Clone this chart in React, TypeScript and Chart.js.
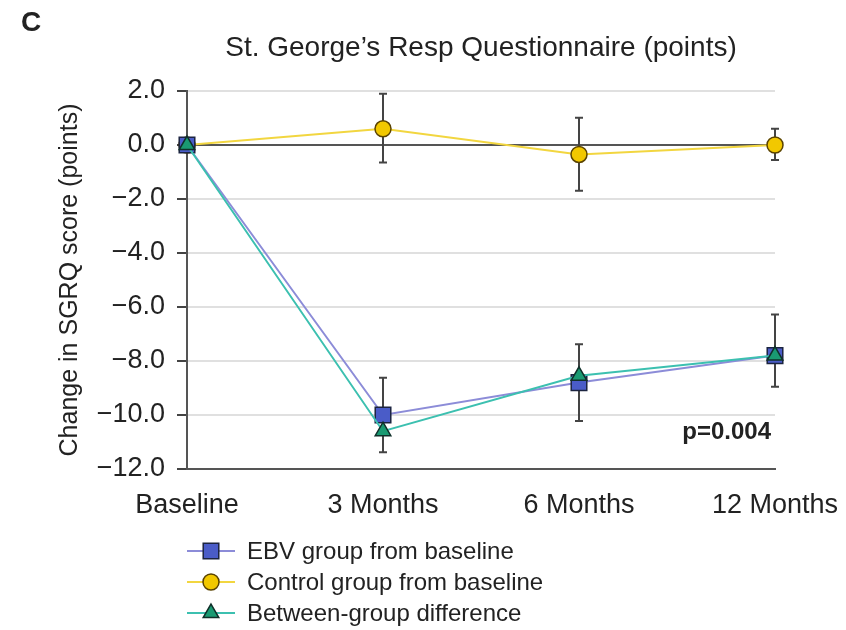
import { useEffect, useRef } from 'react';
import { Chart, registerables } from 'chart.js';

Chart.register(...registerables);

// ---- data ----
const timepoints = ['Baseline', '3 Months', '6 Months', '12 Months'];

const ebvChange = [0, -10.0, -8.8, -7.8];
const ebvErrPlus = [null, 1.38, 1.42, 1.52];
const ebvErrMinus = [null, 1.38, 1.42, 1.15];

const controlChange = [0, 0.6, -0.35, 0.0];
const controlErrPlus = [null, 1.3, 1.36, 0.6];
const controlErrMinus = [null, 1.25, 1.34, 0.56];

const betweenChange = [0, -10.6, -8.55, -7.8];

const seriesNames = [
  'EBV group from baseline',
  'Control group from baseline',
  'Between-group difference',
];

const yMin = -12;
const yMax = 2;
const yStep = 2;

const panelLabel = 'C';
const chartTitle = 'St. George\u2019s Resp Questionnaire (points)';
const yAxisTitle = 'Change in SGRQ score (points)';
const pValueText = 'p=0.004';

// ---- styling ----
const FONT = '"Liberation Sans", Arial, Helvetica, sans-serif';
const TEXT = '#222222';
const AXIS = '#555555';

const series = [
  { line: '#8c8cd8', fill: '#4a5cc8', stroke: '#1c2440', style: 'rect', radius: 11 },
  { line: '#f2d640', fill: '#f2c800', stroke: '#5a4300', style: 'circle', radius: 8 },
  { line: '#3cc0b0', fill: '#1a9a72', stroke: '#10302a', style: 'triangle', radius: 9 },
];

function markerPath(ctx: CanvasRenderingContext2D, style: string, x: number, y: number, r: number) {
  ctx.beginPath();
  if (style === 'rect') {
    const s = Math.SQRT1_2 * r;
    ctx.rect(x - s, y - s, 2 * s, 2 * s);
  } else if (style === 'circle') {
    ctx.arc(x, y, r, 0, Math.PI * 2);
  } else {
    const a = (2 * Math.PI) / 3;
    ctx.moveTo(x, y - r);
    ctx.lineTo(x + Math.sin(a) * r, y - Math.cos(a) * r);
    ctx.lineTo(x + Math.sin(2 * a) * r, y - Math.cos(2 * a) * r);
    ctx.closePath();
  }
}

const errorBars = [
  { dataset: 0, plus: ebvErrPlus, minus: ebvErrMinus },
  { dataset: 1, plus: controlErrPlus, minus: controlErrMinus },
];

const decorations = {
  id: 'decorations',
  beforeDatasetsDraw(chart: any) {
    const { ctx, scales } = chart;
    const xs = scales.x;
    const ys = scales.y;
    ctx.save();
    ctx.strokeStyle = '#444444';
    ctx.lineWidth = 2;
    errorBars.forEach(({ dataset, plus, minus }) => {
      const values = chart.data.datasets[dataset].data as number[];
      values.forEach((v, i) => {
        const p = plus[i];
        const m = minus[i];
        if (p == null || m == null) return;
        const x = xs.getPixelForValue(i);
        const yTop = ys.getPixelForValue(v + p);
        const yBot = ys.getPixelForValue(v - m);
        ctx.beginPath();
        ctx.moveTo(x, yTop);
        ctx.lineTo(x, yBot);
        ctx.moveTo(x - 4, yTop);
        ctx.lineTo(x + 4, yTop);
        ctx.moveTo(x - 4, yBot);
        ctx.lineTo(x + 4, yBot);
        ctx.stroke();
      });
    });
    ctx.restore();
  },
  afterDraw(chart: any) {
    const { ctx, chartArea } = chart;
    ctx.save();
    ctx.fillStyle = TEXT;
    ctx.textBaseline = 'middle';

    // panel letter
    ctx.font = `bold 28px ${FONT}`;
    ctx.textAlign = 'left';
    ctx.fillText(panelLabel, 21, 23);

    // title
    ctx.font = `28px ${FONT}`;
    ctx.textAlign = 'center';
    ctx.fillText(chartTitle, (chartArea.left + chartArea.right) / 2, 48);

    // p-value
    ctx.font = `bold 24px ${FONT}`;
    ctx.textAlign = 'right';
    ctx.fillText(pValueText, chartArea.right - 4, 432);

    // legend
    const rows = [551, 582, 613];
    ctx.font = `24px ${FONT}`;
    ctx.textAlign = 'left';
    seriesNames.forEach((name, i) => {
      const s = series[i];
      const y = rows[i];
      ctx.strokeStyle = s.line;
      ctx.lineWidth = 2;
      ctx.beginPath();
      ctx.moveTo(187, y);
      ctx.lineTo(235, y);
      ctx.stroke();
      markerPath(ctx, s.style, 211, y, s.radius);
      ctx.fillStyle = s.fill;
      ctx.fill();
      ctx.strokeStyle = s.stroke;
      ctx.lineWidth = 1.5;
      ctx.stroke();
      ctx.fillStyle = TEXT;
      ctx.fillText(name, 247, y + 1);
    });
    ctx.restore();
  },
};

const seriesValues = [ebvChange, controlChange, betweenChange];
const drawOrder = [2, 3, 1];

export default function App() {
  const ref = useRef<HTMLCanvasElement>(null);

  useEffect(() => {
    const chart = new Chart(ref.current as HTMLCanvasElement, {
      type: 'line',
      data: {
        labels: timepoints,
        datasets: seriesValues.map((vals, i) => ({
          label: seriesNames[i],
          data: vals,
          borderColor: series[i].line,
          borderWidth: 2,
          tension: 0,
          pointStyle: series[i].style as any,
          pointRadius: series[i].radius,
          pointBackgroundColor: series[i].fill,
          pointBorderColor: series[i].stroke,
          pointBorderWidth: 1.5,
          clip: false as any,
          order: drawOrder[i],
        })),
      },
      options: {
        responsive: false,
        animation: false,
        events: [],
        layout: { padding: { top: 91, right: 71, bottom: 0, left: 0 } },
        plugins: {
          legend: { display: false },
          title: { display: false },
          tooltip: { enabled: false },
        },
        scales: {
          x: {
            type: 'category',
            offset: false,
            afterFit(scale: any) {
              scale.height = 161;
              scale.paddingLeft = 0;
              scale.paddingRight = 0;
            },
            grid: { display: false, drawTicks: false },
            border: { display: true, color: AXIS, width: 2 },
            ticks: {
              color: TEXT,
              font: { family: FONT, size: 27 },
              padding: 20,
              maxRotation: 0,
              autoSkip: false,
            },
          },
          y: {
            min: yMin,
            max: yMax,
            afterFit(scale: any) {
              scale.width = 187;
            },
            grid: {
              color: (c: any) => (c.tick && c.tick.value === 0 ? AXIS : '#e0e0e0'),
              lineWidth: 2,
              tickColor: '#444444',
              tickLength: 10,
              tickWidth: 2,
            },
            border: { display: true, color: AXIS, width: 2 },
            ticks: {
              stepSize: yStep,
              color: TEXT,
              font: { family: FONT, size: 27 },
              padding: 12,
              callback: (v: any) => {
                const n = Number(v);
                const s = Math.abs(n).toFixed(1);
                return n < 0 ? '\u2212' + s : s;
              },
            },
            title: {
              display: true,
              text: yAxisTitle,
              color: TEXT,
              font: { family: FONT, size: 25 },
              padding: { top: 55, bottom: 0 },
            },
          },
        },
      },
      plugins: [decorations],
    });
    return () => chart.destroy();
  }, []);

  return (
    <div style={{ position: 'absolute', left: 0, top: 0, width: 846, height: 630, background: '#ffffff' }}>
      <canvas ref={ref} width={846} height={630} style={{ display: 'block', width: 846, height: 630 }} />
    </div>
  );
}
